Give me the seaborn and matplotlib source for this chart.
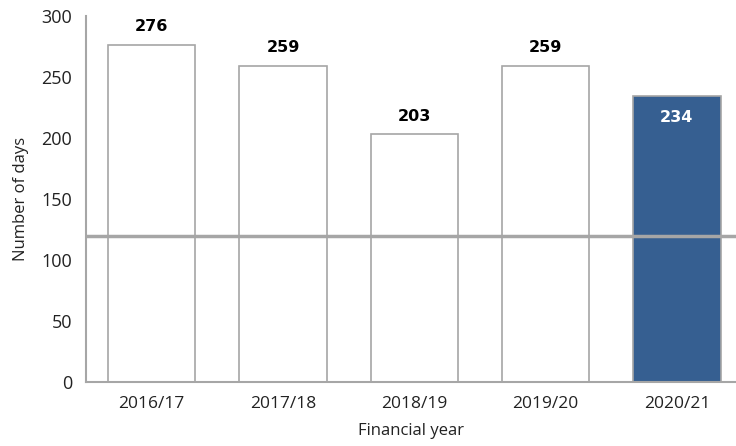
import matplotlib
matplotlib.use("Agg")
import matplotlib.pyplot as plt
import seaborn as sns
import pandas as pd

years = ["2016/17", "2017/18", "2018/19", "2019/20", "2020/21"]
days = [276, 259, 203, 259, 234]
target_days = 120

sns.set_theme(style="white")
plt.rcParams["font.family"] = ["Open Sans", "DejaVu Sans"]

df = pd.DataFrame({"year": years, "days": days})
grey = "#a6a6a6"
blue = "#365f91"
fills = ["white"] * (len(years) - 1) + [blue]

fig = plt.figure(figsize=(7.36, 4.46), dpi=100)
ax = fig.add_axes([0.1168, 0.1435, 0.8832, 0.8207])

sns.barplot(data=df, x="year", y="days", hue="year", palette=fills,
            legend=False, width=0.665, edgecolor=grey, linewidth=1.2,
            saturation=1, ax=ax)

# value labels: above the white bars, inside the highlighted one
for i, v in enumerate(days):
    inside = i == len(days) - 1
    ax.text(i, v - 17 if inside else v + 15, str(v), ha="center", va="center",
            color="white" if inside else "black", fontsize=11.5,
            fontweight="bold", family="DejaVu Sans")

ax.axhline(target_days, color=grey, linewidth=2.5, zorder=5)

ax.set_ylim(0, 300)
ax.set_xlim(-0.5, 4.45)
ax.set_yticks(range(0, 301, 50))
ax.set_xlabel("Financial year", fontsize=12, color="#222222", labelpad=8)
ax.set_ylabel("Number of days", fontsize=12, color="#222222", labelpad=9)

for s in ["top", "right"]:
    ax.spines[s].set_visible(False)
for s in ["left", "bottom"]:
    ax.spines[s].set_color(grey)
    ax.spines[s].set_linewidth(1.5)

ax.tick_params(axis="y", direction="inout", length=12, width=1, color=grey,
               labelsize=13, labelcolor="#222222", pad=4)
ax.tick_params(axis="x", length=0, labelsize=12.5, labelcolor="#222222", pad=10)

fig.savefig("out.png", dpi=100)
